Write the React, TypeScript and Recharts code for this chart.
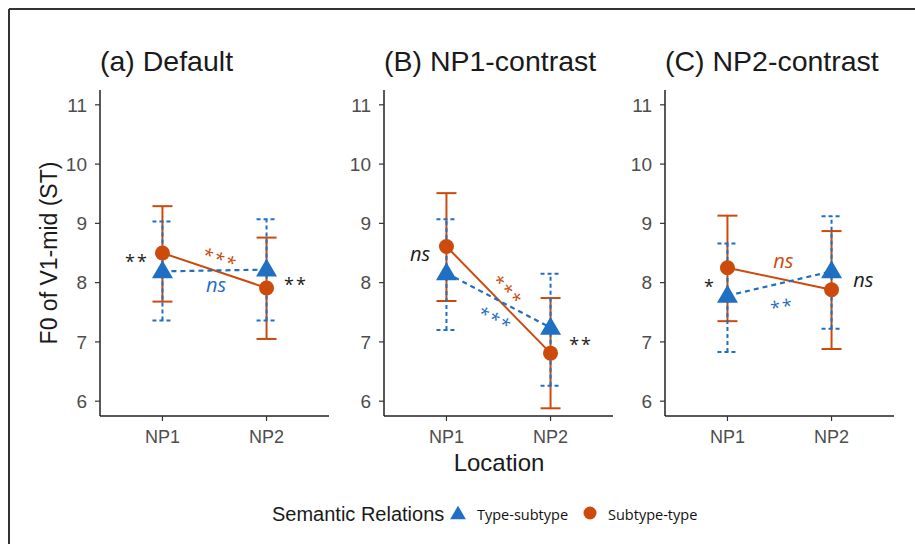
import React from 'react';
import { ComposedChart, Line, ErrorBar, Scatter, XAxis, YAxis } from 'recharts';

const locations = ['NP1', 'NP2'];
const locationPos = [1, 2];
const panelTitles = ['(a) Default', '(B) NP1-contrast', '(C) NP2-contrast'];
const yTicks = [6, 7, 8, 9, 10, 11];

// Type-subtype (blue triangles): means and CI bounds, NP1 then NP2
const typeMeanA = [8.19, 8.22];
const typeLowA = [7.36, 7.36];
const typeHighA = [9.03, 9.07];
const typeMeanB = [8.16, 7.24];
const typeLowB = [7.2, 6.26];
const typeHighB = [9.07, 8.15];
const typeMeanC = [7.78, 8.19];
const typeLowC = [6.83, 7.22];
const typeHighC = [8.66, 9.12];

// Subtype-type (orange circles)
const subMeanA = [8.5, 7.91];
const subLowA = [7.68, 7.05];
const subHighA = [9.29, 8.76];
const subMeanB = [8.61, 6.81];
const subLowB = [7.69, 5.88];
const subHighB = [9.51, 7.74];
const subMeanC = [8.25, 7.88];
const subLowC = [7.35, 6.88];
const subHighC = [9.13, 8.87];

// significance labels, x on the location scale, y in ST
const notesA = [
  { x: 0.755, y: 8.42, text: '**', kind: 'black', angle: 0 },
  { x: 1.567, y: 8.45, text: '***', kind: 'sub', angle: 19 },
  { x: 1.514, y: 7.93, text: 'ns', kind: 'type', angle: 0 },
  { x: 2.283, y: 8.04, text: '**', kind: 'black', angle: 0 },
];
const notesB = [
  { x: 0.746, y: 8.45, text: 'ns', kind: 'black', angle: 0 },
  { x: 1.608, y: 7.9, text: '***', kind: 'sub', angle: 46 },
  { x: 1.483, y: 7.43, text: '***', kind: 'type', angle: 27 },
  { x: 2.293, y: 7.02, text: '**', kind: 'black', angle: 0 },
];
const notesC = [
  { x: 0.832, y: 7.99, text: '*', kind: 'black', angle: 0 },
  { x: 1.537, y: 8.33, text: 'ns', kind: 'sub', angle: 0 },
  { x: 1.521, y: 7.66, text: '**', kind: 'type', angle: -10 },
  { x: 2.305, y: 8.02, text: 'ns', kind: 'black', angle: 0 },
];

const BLUE = '#1f6fc2';
const ORANGE = '#cc4a0c';
const INK = '#1a1a1a';
const FONT = '"Liberation Sans", Arial, sans-serif';
const NOTE_FONT = '"Open Sans", sans-serif';
const kindColor: Record<string, string> = { black: INK, type: BLUE, sub: ORANGE };

const PLOT_W = 229;
const PLOT_H = 326;
const PLOT_TOP = 90;
const Y_AXIS_W = 90;
const X_AXIS_H = 40;
const plotLefts = [100, 384, 665];

const panels = [
  { title: panelTitles[0], tm: typeMeanA, tl: typeLowA, th: typeHighA, sm: subMeanA, sl: subLowA, sh: subHighA, notes: notesA },
  { title: panelTitles[1], tm: typeMeanB, tl: typeLowB, th: typeHighB, sm: subMeanB, sl: subLowB, sh: subHighB, notes: notesB },
  { title: panelTitles[2], tm: typeMeanC, tl: typeLowC, th: typeHighC, sm: subMeanC, sl: subLowC, sh: subHighC, notes: notesC },
];

const tri = (cx: number, cy: number, s: number) =>
  `M${cx},${cy - 11 * s} L${cx + 10.5 * s},${cy + 7 * s} L${cx - 10.5 * s},${cy + 7 * s} Z`;

// eslint-disable-next-line @typescript-eslint/no-explicit-any
const NoteShape = (props: any) => {
  const { cx, cy, payload } = props;
  const stars = payload.text !== 'ns';
  const fs = stars ? 18 : 20;
  // shift so the glyphs, not the baseline, sit on the point
  const dy = stars ? fs * 0.57 : fs * 0.27;
  return (
    <text
      x={cx}
      y={cy + dy}
      textAnchor="middle"
      fill={kindColor[payload.kind]}
      fontSize={fs}
      fontFamily={NOTE_FONT}
      fontStyle={stars ? 'normal' : 'italic'}
      letterSpacing={stars ? 2 : 0}
      transform={payload.angle ? `rotate(${payload.angle}, ${cx}, ${cy})` : undefined}
    >
      {payload.text}
    </text>
  );
};

// eslint-disable-next-line @typescript-eslint/no-explicit-any
const Panel = ({ p, plotLeft }: { p: any; plotLeft: number }) => {
  const rows = locations.map((loc, i) => ({
    x: locationPos[i],
    loc,
    typeMean: p.tm[i],
    typeErr: [p.tm[i] - p.tl[i], p.th[i] - p.tm[i]],
    subMean: p.sm[i],
    subErr: [p.sm[i] - p.sl[i], p.sh[i] - p.sm[i]],
  }));

  return (
    <div style={{ position: 'absolute', left: plotLeft - Y_AXIS_W, top: PLOT_TOP }}>
      <ComposedChart
        width={Y_AXIS_W + PLOT_W}
        height={PLOT_H + X_AXIS_H}
        data={rows}
        margin={{ top: 0, right: 0, bottom: 0, left: 0 }}
      >
        <XAxis
          type="number"
          dataKey="x"
          domain={[0.4, 2.6]}
          ticks={locationPos}
          tickFormatter={(v: number) => locations[locationPos.indexOf(v)]}
          allowDataOverflow
          height={X_AXIS_H}
          axisLine={{ stroke: '#222', strokeWidth: 1.5 }}
          tickLine={{ stroke: '#333', strokeWidth: 1.2 }}
          tickSize={5}
          tickMargin={9}
          tick={{ fill: '#4d4d4d', fontSize: 18, fontFamily: FONT }}
        />
        <YAxis
          type="number"
          domain={[5.75, 11.25]}
          ticks={yTicks}
          allowDataOverflow
          width={Y_AXIS_W}
          axisLine={{ stroke: '#222', strokeWidth: 1.5 }}
          tickLine={{ stroke: '#333', strokeWidth: 1.2 }}
          tickSize={5}
          tickMargin={8}
          tick={{ fill: '#4d4d4d', fontSize: 19, fontFamily: FONT }}
        />
        <Line
          dataKey="subMean"
          stroke={ORANGE}
          strokeWidth={2}
          isAnimationActive={false}
          activeDot={false}
          dot={(d: any) => <circle key={`c${d.index}`} cx={d.cx} cy={d.cy} r={7.5} fill={ORANGE} />}
        >
          <ErrorBar dataKey="subErr" direction="y" width={10} stroke={ORANGE} strokeWidth={2} />
        </Line>
        <Line
          dataKey="typeMean"
          stroke={BLUE}
          strokeWidth={2.2}
          strokeDasharray="5 4"
          isAnimationActive={false}
          activeDot={false}
          dot={(d: any) => <path key={`t${d.index}`} d={tri(d.cx, d.cy, 1)} fill={BLUE} />}
        >
          <ErrorBar dataKey="typeErr" direction="y" width={10} stroke={BLUE} strokeWidth={2} strokeDasharray="4 3" />
        </Line>
        <Scatter data={p.notes} dataKey="y" shape={NoteShape} isAnimationActive={false} />
      </ComposedChart>
    </div>
  );
};

export default function App() {
  return (
    <div style={{ position: 'absolute', left: 0, top: 0, width: 915, height: 544, background: '#fff', overflow: 'hidden' }}>
      <svg width={915} height={544} style={{ position: 'absolute', left: 0, top: 0 }}>
        <line x1={9} y1={9} x2={915} y2={9} stroke="#333" strokeWidth={2} />
        <line x1={9} y1={9} x2={9} y2={544} stroke="#333" strokeWidth={2} />
        {panels.map((p, i) => (
          <text key={p.title} x={plotLefts[i]} y={71} fontSize={28.5} fontFamily={FONT} fill={INK}>
            {p.title}
          </text>
        ))}
        <text x={57} y={253} transform="rotate(-90, 57, 253)" textAnchor="middle" fontSize={23} fontFamily={FONT} fill={INK}>
          F0 of V1-mid (ST)
        </text>
        <text x={499} y={471} textAnchor="middle" fontSize={24} fontFamily={FONT} fill={INK}>
          Location
        </text>
        <text x={272} y={521} fontSize={20} fontFamily={FONT} fill={INK}>
          Semantic Relations
        </text>
        <path d={tri(458, 514, 0.75)} fill={BLUE} />
        <text x={477} y={520} fontSize={14.5} fontWeight={500} fontFamily={NOTE_FONT} fill="#111">
          Type-subtype
        </text>
        <circle cx={590} cy={513} r={6.5} fill={ORANGE} />
        <text x={608} y={520} fontSize={14.5} fontWeight={500} fontFamily={NOTE_FONT} fill="#111">
          Subtype-type
        </text>
      </svg>
      {panels.map((p, i) => (
        <Panel key={p.title} p={p} plotLeft={plotLefts[i]} />
      ))}
    </div>
  );
}
